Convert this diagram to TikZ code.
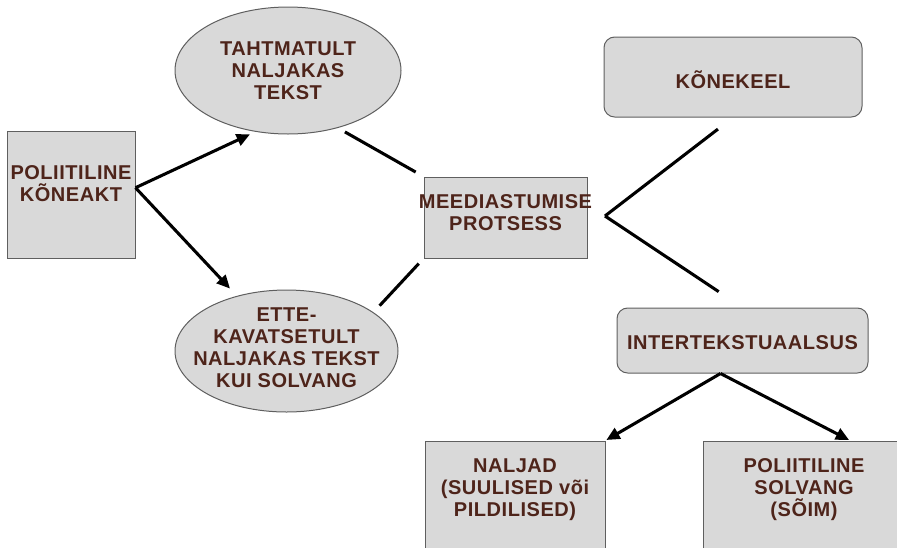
\documentclass[tikz,border=0pt]{standalone}
\usepackage{fontspec}
\setmainfont{Liberation Sans}
\newfontfamily\siltfont[LetterSpace=2.7]{Liberation Sans}
\usetikzlibrary{shapes.geometric,arrows.meta}
\definecolor{boxfill}{RGB}{217,217,217}
\definecolor{boxline}{RGB}{95,95,95}
\definecolor{textbrown}{RGB}{78,36,26}
\begin{document}
\begin{tikzpicture}[x=0.75pt,y=-0.75pt,line width=.75pt,
    plainbox/.style={draw=boxline,fill=boxfill,rectangle,inner sep=0pt},
    roundbox/.style={plainbox,rounded corners=8pt},
    oval/.style={draw=boxline,fill=boxfill,ellipse,inner sep=0pt},
    txt/.style={text=textbrown,font=\siltfont\bfseries\fontsize{15}{16.5}\selectfont,align=center,inner sep=0pt},
    link/.style={line width=2.3pt,black},
    arrow/.style={link,-{Triangle[length=10pt,width=9pt]}}]
      \pgfmathsetmacro{\u}{0.75}
      \path[use as bounding box,clip] (0,0) rectangle (897,547);

      \node[plainbox,minimum width=\u*128pt,minimum height=\u*127pt,
        label={[txt,yshift=\u*10.5pt]center:{POLIITILINE\\KÕNEAKT}}] (koneakt) at (71,194.5) {};

      \node[oval,minimum width=\u*226pt,minimum height=\u*127pt,
        label={[txt]center:{TAHTMATULT\\NALJAKAS\\TEKST}}] (tahtmatult) at (288,70.5) {};
      \node[oval,minimum width=\u*223pt,minimum height=\u*122pt,
        label={[txt,yshift=\u*3.5pt]center:{ETTE-\\KAVATSETULT\\NALJAKAS TEKST\\KUI SOLVANG}}] (ettekavatsetult) at (286.5,351) {};

      \node[plainbox,minimum width=\u*163pt,minimum height=\u*81pt,
        label={[txt,yshift=\u*5pt]center:{MEEDIASTUMISE\\PROTSESS}}] (meedia) at (505.5,217.5) {};

      \node[roundbox,minimum width=\u*258pt,minimum height=\u*80pt,
        label={[txt,yshift=-\u*3pt]center:{KÕNEKEEL}}] (konekeel) at (733,77) {};
      \node[roundbox,minimum width=\u*251pt,minimum height=\u*65pt,
        label={[txt,yshift=-\u*2pt]center:{INTERTEKSTUAALSUS}}] (intertekst) at (742.5,340.5) {};

      \node[plainbox,minimum width=\u*180pt,minimum height=\u*139pt,
        label={[txt,yshift=\u*20.5pt]center:{NALJAD\\(SUULISED või\\PILDILISED)}}] (naljad) at (515,510.5) {};
      \node[plainbox,minimum width=\u*202pt,minimum height=\u*139pt,
        label={[txt,yshift=\u*20.5pt]center:{POLIITILINE\\SOLVANG\\(SÕIM)}}] (solvang) at (804,510.5) {};

      \coordinate (kurv) at (605,216);
      \coordinate (hargnemine) at ([xshift=-\u*22pt]intertekst.south);

      \draw[arrow,shorten >=\u*6pt] (koneakt.6) -- (tahtmatult.242);
      \draw[arrow,shorten >=\u*10pt] (koneakt.6) -- (ettekavatsetult.132);
      \draw[link,shorten <=\u*8pt,shorten >=\u*9pt] (tahtmatult.311) -- (meedia.north west);
      \draw[link,shorten <=\u*7pt,shorten >=\u*9pt] (meedia.south west) -- (ettekavatsetult.24);
      \draw[link,shorten >=\u*19pt] (kurv) -- (konekeel.south);
      \draw[link,shorten >=\u*28.6pt] (kurv) -- (intertekst.north);
      \draw[arrow,shorten >=\u*1pt] (hargnemine) -- (naljad.north east);
      \draw[arrow,shorten >=\u*1pt] (hargnemine) -- ([xshift=\u*46pt]solvang.north);
    \end{tikzpicture}
\end{document}
